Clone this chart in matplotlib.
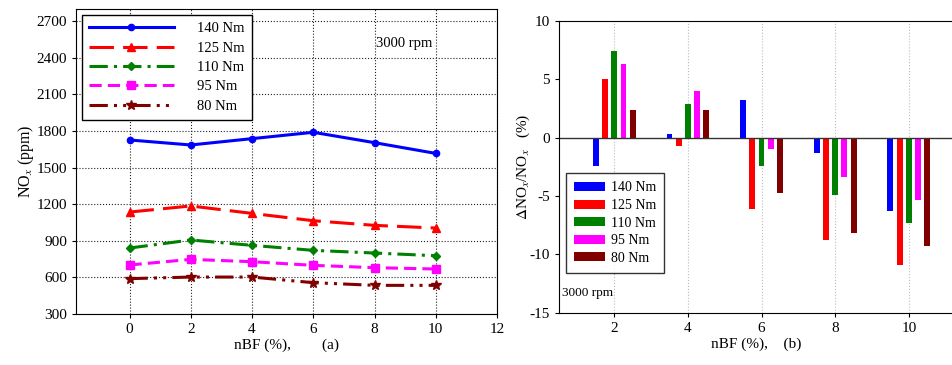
import matplotlib
matplotlib.use("Agg")
import matplotlib.pyplot as plt
import numpy as np

plt.rcParams['font.family'] = ['Liberation Serif', 'DejaVu Serif']
plt.rcParams['mathtext.fontset'] = 'stix'
plt.rcParams['axes.unicode_minus'] = False

nbf = [0, 2, 4, 6, 8, 10]
loads = ['140 Nm', '125 Nm', '110 Nm', '95 Nm', '80 Nm']
nox_140 = [1727, 1686, 1738, 1790, 1705, 1617]
nox_125 = [1136, 1186, 1125, 1065, 1027, 1005]
nox_110 = [841, 907, 863, 822, 800, 778]
nox_95 = [702, 748, 729, 699, 680, 669]
nox_80 = [590, 603, 603, 557, 535, 535]

nbf_b = [2, 4, 6, 8, 10]
d_140 = [-2.4, 0.3, 3.2, -1.3, -6.3]
d_125 = [5.0, -0.7, -6.1, -8.8, -10.9]
d_110 = [7.4, 2.9, -2.4, -4.9, -7.3]
d_95 = [6.3, 4.0, -1.0, -3.4, -5.3]
d_80 = [2.4, 2.4, -4.7, -8.2, -9.3]

colors = ['#0000ff', '#ff0000', '#008000', '#ff00ff', '#800000']
markers = ['o', '^', 'D', 's', '*']
styles = ['-', (0, (8, 3)), (0, (6, 2, 1, 2)), (0, (4, 2)), (0, (6, 2, 1, 2, 1, 2))]
msizes = [4.5, 5.5, 4.5, 5.5, 7]

fig = plt.figure(figsize=(9.53, 3.65), dpi=100)
ax1 = fig.add_axes([0.0797, 0.1397, 0.4418, 0.8353])
ax2 = fig.add_axes([0.5866, 0.143, 0.4134, 0.800])

series = [nox_140, nox_125, nox_110, nox_95, nox_80]
for s, c, m, ls, ms, lab in zip(series, colors, markers, styles, msizes, loads):
    ax1.plot(nbf, s, color=c, marker=m, linestyle=ls, linewidth=2.2, markersize=ms, label=lab)

ax1.set_xlim(-1.75, 12)
ax1.set_ylim(300, 2800)
ax1.set_xticks([0, 2, 4, 6, 8, 10, 12])
ax1.set_yticks(range(300, 2701, 300))
ax1.grid(True, color='#222222', linestyle=':', linewidth=0.8)
ax1.tick_params(labelsize=11, direction='out', length=3)
ax1.set_xlabel('nBF (%),        (a)', fontsize=11, labelpad=2)
ax1.set_ylabel('NO$_x$ (ppm)', fontsize=11.5, labelpad=0)
ax1.text(8.05, 2520, '3000 rpm', fontsize=10.5, ha='left', va='center')
leg1 = ax1.legend(loc='upper left', fontsize=10.5, frameon=True, fancybox=False,
                  edgecolor='black', handlelength=5.8, handletextpad=1.6,
                  borderaxespad=0.4, labelspacing=0.42, borderpad=0.5)
leg1.get_frame().set_linewidth(1.0)
leg1.get_frame().set_alpha(1)

offsets = [-0.5, -0.25, 0.0, 0.25, 0.5]
bars = [d_140, d_125, d_110, d_95, d_80]
x = np.array(nbf_b, dtype=float)
for b, c, off, lab in zip(bars, colors, offsets, loads):
    ax2.bar(x + off, b, width=0.16, color=c, label=lab)

ax2.set_xlim(0.5, 11.2)
ax2.set_ylim(-15, 10)
ax2.set_xticks(nbf_b)
ax2.set_yticks([-15, -10, -5, 0, 5, 10])
ax2.axhline(0, color='#333333', linewidth=1)
ax2.grid(True, axis='x', color='#bbbbbb', linestyle=':', linewidth=0.8)
ax2.set_axisbelow(True)
ax2.spines['right'].set_visible(False)
ax2.tick_params(labelsize=11, direction='out', length=3)
ax2.set_xlabel('nBF (%),    (b)', fontsize=11, labelpad=2)
ax2.set_ylabel('$\\Delta$NO$_x$/NO$_x$   (%)', fontsize=11, labelpad=-2)
ax2.text(0.58, -13.3, '3000 rpm', fontsize=9.5, ha='left', va='center')
leg2 = ax2.legend(loc='lower left', bbox_to_anchor=(0.017, 0.136), fontsize=10,
                  frameon=True, fancybox=False, edgecolor='black',
                  handlelength=2.2, handleheight=0.6, handletextpad=0.45,
                  labelspacing=0.33, borderpad=0.6, borderaxespad=0)
leg2.get_frame().set_linewidth(1.0)

fig.savefig('out.png', dpi=100)
